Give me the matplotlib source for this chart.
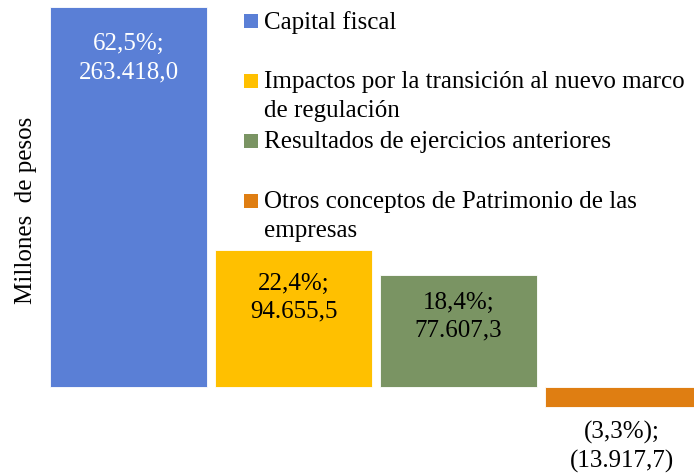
import matplotlib.pyplot as plt
from matplotlib.patches import Rectangle

plt.rcParams['font.family'] = ['Liberation Serif', 'DejaVu Serif']

categories = ['Capital fiscal',
              'Impactos por la transición al nuevo marco\nde regulación',
              'Resultados de ejercicios anteriores',
              'Otros conceptos de Patrimonio de las\nempresas']
values = [263418.0, 94655.5, 77607.3, -13917.7]
labels = ['62,5%;\n263.418,0', '22,4%;\n94.655,5', '18,4%;\n77.607,3', '(3,3%);\n(13.917,7)']
colors = ['#5A7FD6', '#FFC000', '#7A9463', '#DF7E12']
label_colors = ['white', 'black', 'black', 'black']
label_offsets = [-19, -16, -12, -10]

W, H = 694, 473
fig = plt.figure(figsize=(W / 100, H / 100), dpi=100)
ax = fig.add_axes([50 / W, 0, 1 - 50 / W, 1])

xs = range(len(values))
bars = ax.bar(xs, values, width=0.952, color=colors, edgecolor='white', linewidth=0.6)

# y scale: zero at pixel 387, first bar top at pixel 7
k = values[0] / 380.0
ax.set_ylim(-(H - 387) * k, 387 * k)
ax.set_xlim(-0.476, (W - 128.5) / 165.0)
ax.axis('off')

for b, v, lab, c, off in zip(bars, values, labels, label_colors, label_offsets):
    cx = b.get_x() + b.get_width() / 2
    if v < 0:
        cx -= 0.01
    ax.annotate(lab, (cx, v), xytext=(0, off), textcoords='offset points',
                ha='center', va='top', fontsize=18, color=c, linespacing=1.35)

fig.text(26 / W, 1 - 210 / H, 'Millones  de pesos', rotation=90,
         ha='center', va='center', fontsize=18)

# legend, drawn by hand to mimic the spreadsheet layout
for i, (cat, col) in enumerate(zip(categories, colors)):
    ytop = 7 + 60 * i
    fig.patches.append(Rectangle((244 / W, 1 - (ytop + 21) / H), 14 / W, 14 / H,
                                 transform=fig.transFigure, facecolor=col,
                                 edgecolor='none'))
    fig.text(264 / W, 1 - (ytop + 4) / H, cat, ha='left', va='top', fontsize=18,
             linespacing=1.4)

fig.savefig('out.png', dpi=100)
